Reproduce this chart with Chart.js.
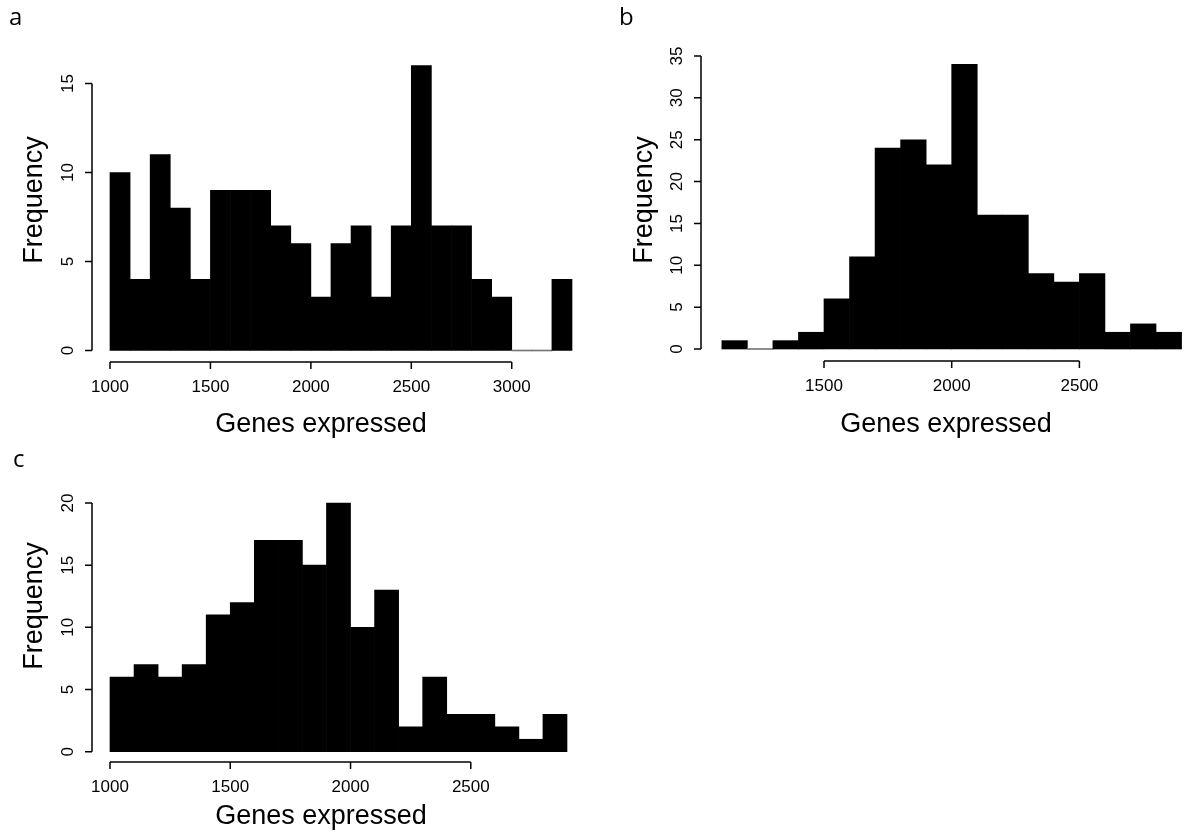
<!DOCTYPE html>
<html><head><meta charset="utf-8">
<script src="https://cdn.jsdelivr.net/npm/chart.js@4.4.1/dist/chart.umd.min.js"></script>
<style>
html,body{margin:0;padding:0;background:#fff;}
#wrap{position:relative;width:1184px;height:832px;overflow:hidden;background:#fff;}
canvas{position:absolute;left:0;top:0;}
.t{position:absolute;font-family:"Liberation Sans",Arial,sans-serif;font-size:27px;color:#000;white-space:nowrap;line-height:1;transform:translate(-50%,-50%);}
.r{transform:translate(-50%,-50%) rotate(-90deg);}
.letter{position:absolute;font-family:"Open Sans",sans-serif;font-size:24px;color:#000;line-height:1;}
</style></head>
<body><div id="wrap">
<canvas id="ca" width="1184" height="832"></canvas>
<canvas id="cb" width="1184" height="832"></canvas>
<canvas id="cc" width="1184" height="832"></canvas>
<div class="letter" style="left:9px;top:4px">a</div>
<div class="letter" style="left:619px;top:4px">b</div>
<div class="letter" style="left:13px;top:446px">c</div>
<div class="t" style="left:321px;top:423px">Genes expressed</div>
<div class="t" style="left:946px;top:423px">Genes expressed</div>
<div class="t" style="left:321px;top:815px">Genes expressed</div>
<div class="t r" style="left:33px;top:200px">Frequency</div>
<div class="t r" style="left:643px;top:200px">Frequency</div>
<div class="t r" style="left:33px;top:606px">Frequency</div>
</div>
<script>
// ---- data ----
const binWidth = 100;
const binsA   = [1000,1100,1200,1300,1400,1500,1600,1700,1800,1900,2000,2100,2200,2300,2400,2500,2600,2700,2800,2900,3000,3100,3200];
const countsA = [10,4,11,8,4,9,9,9,7,6,3,6,7,3,7,16,7,7,4,3,0,0,4];
const xTicksA = [1000,1500,2000,2500,3000];
const yTicksA = [0,5,10,15];

const binsB   = [1100,1200,1300,1400,1500,1600,1700,1800,1900,2000,2100,2200,2300,2400,2500,2600,2700,2800];
const countsB = [1,0,1,2,6,11,24,25,22,34,16,16,9,8,9,2,3,2];
const xTicksB = [1500,2000,2500];
const yTicksB = [0,5,10,15,20,25,30,35];

const binsC   = [1000,1100,1200,1300,1400,1500,1600,1700,1800,1900,2000,2100,2200,2300,2400,2500,2600,2700,2800];
const countsC = [6,7,6,7,11,12,17,17,15,20,10,13,2,6,3,3,2,1,3];
const xTicksC = [1000,1500,2000,2500];
const yTicksC = [0,5,10,15,20];

// ---- layout (pixel anchors) ----
const W = 1184, H = 832;
const layoutA = {left:92, right:590, top:55, bottom:362, xa:[110,1000,572,3300], ya:[350.5,0,83.5,15]};
const layoutB = {left:701, right:1184, top:54, bottom:361, xa:[824,1500,951.7,2000], ya:[349,0,56,35]};
const layoutC = {left:92, right:590, top:493, bottom:762, xa:[110,1000,567,2900], ya:[751.7,0,503,20]};

function span(p0, v0, p1, v1, pa, pb) {
  const k = (v1 - v0) / (p1 - p0);
  return [v0 + (pa - p0) * k, v0 + (pb - p0) * k];
}

const rAxes = {
  id: 'rAxes',
  afterDraw(chart, args, o) {
    const ctx = chart.ctx, a = chart.chartArea, x = chart.scales.x, y = chart.scales.y;
    ctx.save();
    ctx.strokeStyle = '#000'; ctx.fillStyle = '#000'; ctx.lineWidth = 1.5;
    ctx.font = '17px "Liberation Sans", Arial, sans-serif';
    // x axis
    const yb = a.bottom;
    ctx.beginPath();
    ctx.moveTo(x.getPixelForValue(o.xTicks[0]), yb);
    ctx.lineTo(x.getPixelForValue(o.xTicks[o.xTicks.length - 1]), yb);
    o.xTicks.forEach(v => { const px = x.getPixelForValue(v); ctx.moveTo(px, yb); ctx.lineTo(px, yb + 7); });
    // y axis
    const xl = a.left;
    ctx.moveTo(xl, y.getPixelForValue(o.yTicks[0]));
    ctx.lineTo(xl, y.getPixelForValue(o.yTicks[o.yTicks.length - 1]));
    o.yTicks.forEach(v => { const py = y.getPixelForValue(v); ctx.moveTo(xl, py); ctx.lineTo(xl - 7, py); });
    ctx.stroke();
    ctx.textAlign = 'center'; ctx.textBaseline = 'alphabetic';
    o.xTicks.forEach(v => ctx.fillText(String(v), x.getPixelForValue(v), yb + 30));
    o.yTicks.forEach(v => {
      const py = y.getPixelForValue(v);
      ctx.save(); ctx.translate(xl - 19, py); ctx.rotate(-Math.PI / 2);
      ctx.fillText(String(v), 0, 0); ctx.restore();
    });
    ctx.restore();
  }
};

function makeChart(id, bins, counts, xTicks, yTicks, L) {
  const xr = span(L.xa[0], L.xa[1], L.xa[2], L.xa[3], L.left, L.right);
  const yr = span(L.ya[0], L.ya[1], L.ya[2], L.ya[3], L.bottom, L.top);
  return new Chart(document.getElementById(id), {
    type: 'bar',
    data: { datasets: [{
      data: bins.map((b, i) => ({x: b + binWidth / 2, y: counts[i]})),
      backgroundColor: counts.map(c => c === 0 ? '#777' : '#000'),
      borderWidth: 0, barPercentage: 1, categoryPercentage: 1, minBarLength: 1
    }]},
    options: {
      responsive: false, animation: false, events: [],
      layout: {padding: {left: L.left, right: W - L.right, top: L.top, bottom: H - L.bottom}},
      plugins: {legend: {display: false}, tooltip: {enabled: false}, rAxes: {xTicks, yTicks}},
      scales: {
        x: {type: 'linear', display: false, offset: false, min: xr[0], max: xr[1],
            afterBuildTicks: s => { s.ticks = xTicks.map(v => ({value: v})); }},
        y: {type: 'linear', display: false, min: yr[0], max: yr[1],
            afterBuildTicks: s => { s.ticks = yTicks.map(v => ({value: v})); }}
      }
    },
    plugins: [rAxes]
  });
}

makeChart('ca', binsA, countsA, xTicksA, yTicksA, layoutA);
makeChart('cb', binsB, countsB, xTicksB, yTicksB, layoutB);
makeChart('cc', binsC, countsC, xTicksC, yTicksC, layoutC);
</script>
</body></html>
